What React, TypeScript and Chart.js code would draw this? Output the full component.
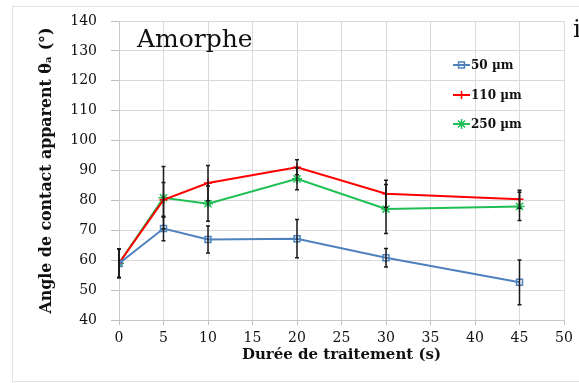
import React, { useEffect, useRef } from 'react';
import { Chart, registerables } from 'chart.js';
Chart.register(...registerables);

const durations = [0, 5, 10, 20, 30, 45];
const seriesLabels = ['50 µm', '110 µm', '250 µm'];
const angle50 = [58.9, 70.6, 66.9, 67.2, 60.8, 52.6];
const err50 = [4.8, 4.1, 4.5, 6.4, 3.1, 7.5];
const angle110 = [59.0, 80.2, 85.8, 91.1, 82.2, 80.4];
const err110 = [4.8, 5.8, 5.9, 2.5, 4.5, 3.0];
const angle250 = [59.0, 80.9, 78.9, 87.2, 77.1, 78.0];
const err250 = [4.8, 10.4, 5.9, 3.6, 8.2, 4.7];
const xTitle = 'Durée de traitement (s)';
const yTitle = 'Angle de contact apparent θₐ (°)';
const annotation = 'Amorphe';

const colors = ['#4f81bd', '#ff0000', '#1fbf55'];
const FONT = "'DejaVu Serif', serif";

function drawMarker(ctx: CanvasRenderingContext2D, style: string, x: number, y: number, r: number, color: string) {
  ctx.strokeStyle = color;
  ctx.lineWidth = 1.5;
  ctx.beginPath();
  if (style === 'rect') {
    const s = r * Math.SQRT1_2;
    ctx.rect(x - s, y - s, 2 * s, 2 * s);
  } else if (style === 'cross') {
    ctx.moveTo(x - r, y); ctx.lineTo(x + r, y);
    ctx.moveTo(x, y - r); ctx.lineTo(x, y + r);
  } else {
    ctx.moveTo(x - r, y); ctx.lineTo(x + r, y);
    ctx.moveTo(x, y - r); ctx.lineTo(x, y + r);
    const d = r * Math.SQRT1_2;
    ctx.moveTo(x - d, y - d); ctx.lineTo(x + d, y + d);
    ctx.moveTo(x - d, y + d); ctx.lineTo(x + d, y - d);
  }
  ctx.stroke();
}

const errorBarPlugin = {
  id: 'errorBars',
  afterDatasetsDraw(chart: any) {
    const ctx = chart.ctx;
    const xs = chart.scales.x;
    const ys = chart.scales.y;
    const errs = [err50, err110, err250];
    const vals = [angle50, angle110, angle250];
    ctx.save();
    ctx.strokeStyle = '#1a1a1a';
    ctx.lineWidth = 1.5;
    errs.forEach((e, s) => {
      durations.forEach((d, i) => {
        const x = xs.getPixelForValue(d);
        const yT = ys.getPixelForValue(vals[s][i] + e[i]);
        const yB = ys.getPixelForValue(vals[s][i] - e[i]);
        ctx.beginPath();
        ctx.moveTo(x, yT);
        ctx.lineTo(x, yB);
        ctx.moveTo(x - 2, yT);
        ctx.lineTo(x + 2, yT);
        ctx.moveTo(x - 2, yB);
        ctx.lineTo(x + 2, yB);
        ctx.stroke();
      });
    });
    ctx.restore();
  },
  afterDraw(chart: any) {
    const ctx = chart.ctx;
    ctx.save();
    const rows = [65, 95, 124];
    chart.data.datasets.forEach((ds: any, i: number) => {
      const y = rows[i];
      ctx.strokeStyle = ds.borderColor;
      ctx.lineWidth = 2;
      ctx.beginPath();
      ctx.moveTo(453, y);
      ctx.lineTo(470, y);
      ctx.stroke();
      drawMarker(ctx, ds.pointStyle, 461.5, y, ds.pointRadius, ds.borderColor);
      ctx.fillStyle = '#111';
      ctx.font = `bold 12px ${FONT}`;
      ctx.textBaseline = 'middle';
      ctx.textAlign = 'left';
      ctx.fillText(ds.label, 471, y + 1);
    });
    ctx.font = `25px ${FONT}`;
    ctx.fillStyle = '#111';
    ctx.textBaseline = 'alphabetic';
    ctx.fillText(annotation, 137, 47);
    ctx.fillText('i', 573, 37);
    ctx.restore();
  },
};

export default function App() {
  const ref = useRef<HTMLCanvasElement>(null);
  useEffect(() => {
    if (!ref.current) return;
    const mk = (vals: number[]) => durations.map((d, i) => ({ x: d, y: vals[i] }));
    const chart = new Chart(ref.current, {
      type: 'line',
      data: {
        datasets: [
          { label: seriesLabels[0], data: mk(angle50), borderColor: colors[0], backgroundColor: 'rgba(0,0,0,0)', borderWidth: 2, pointStyle: 'rect', pointRadius: 4.2, pointBorderWidth: 1.5, pointBackgroundColor: 'rgba(0,0,0,0)' },
          { label: seriesLabels[1], data: mk(angle110), borderColor: colors[1], backgroundColor: 'rgba(0,0,0,0)', borderWidth: 2, pointStyle: 'cross', pointRadius: 4, pointBorderWidth: 1.5 },
          { label: seriesLabels[2], data: mk(angle250), borderColor: colors[2], backgroundColor: 'rgba(0,0,0,0)', borderWidth: 2, pointStyle: 'star', pointRadius: 5, pointBorderWidth: 1.5 },
        ],
      },
      options: {
        animation: false,
        responsive: false,
        layout: { padding: { left: 0, top: 20, right: 15, bottom: 0 } },
        plugins: { legend: { display: false }, tooltip: { enabled: false } },
        scales: {
          x: {
            type: 'linear',
            min: 0,
            max: 50,
            ticks: { stepSize: 5, color: '#111', font: { family: FONT, size: 14, lineHeight: 1 }, padding: 6 },
            grid: { color: '#d9d9d9', tickLength: 5, tickColor: '#bfbfbf' },
            border: { color: '#c8c8c8' },
            title: { display: true, text: xTitle, color: '#111', font: { family: FONT, size: 15, weight: 'bold', lineHeight: 1 }, padding: { top: 0, bottom: 20 } },
            afterFit: (s: any) => { s.height = 63; },
          },
          y: {
            type: 'linear',
            min: 40,
            max: 140,
            ticks: { stepSize: 10, color: '#111', font: { family: FONT, size: 14, lineHeight: 1 }, padding: 14 },
            grid: { color: '#d9d9d9', tickLength: 8, tickColor: '#bfbfbf' },
            border: { color: '#c8c8c8' },
            title: { display: true, text: yTitle, color: '#111', font: { family: FONT, size: 15.8, weight: 'bold', lineHeight: 1 }, padding: { top: 39, bottom: 0 } },
            afterFit: (s: any) => { s.width = 119; },
          },
        },
      } as any,
      plugins: [errorBarPlugin],
    });
    return () => chart.destroy();
  }, []);
  return (
    <div style={{ position: 'absolute', left: 0, top: 0, width: 579, height: 383, background: '#fff', overflow: 'hidden' }}>
      <div style={{ position: 'absolute', left: 12, top: 6, width: 600, height: 374, borderLeft: '1px solid #e2e2e2', borderTop: '1px solid #e2e2e2', borderBottom: '1px solid #e2e2e2' }} />
      <canvas ref={ref} width={579} height={383} style={{ position: 'absolute', left: 0, top: 0 }} />
    </div>
  );
}
